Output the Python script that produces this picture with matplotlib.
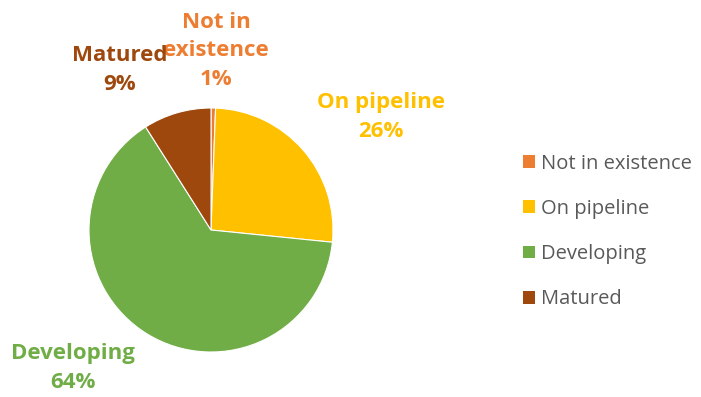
import matplotlib
matplotlib.use("Agg")
import matplotlib.pyplot as plt

# Share of sites by stage
categories = ["Not in existence", "On pipeline", "Developing", "Matured"]
shares = [0.6, 26.0, 64.4, 9.0]
colors = ["#ED7D31", "#FFC000", "#70AD47", "#9E480E"]

# label centre positions in pixels (x, y) for each slice label
label_px = [(216, 51), (381, 117), (73, 368), (120, 70)]

plt.rcParams["font.family"] = ["Open Sans", "DejaVu Sans"]

W, H = 701, 397
fig = plt.figure(figsize=(W / 100, H / 100), dpi=100)
fig.patch.set_facecolor("white")

# pie centre ~ (211, 230) px, radius ~122 px
cx, cy, r = 211, 230, 122
ax = fig.add_axes([(cx - r) / W, (H - cy - r) / H, 2 * r / W, 2 * r / H])
wedges, _ = ax.pie(shares, colors=colors, startangle=90, counterclock=False,
                   radius=1.0, wedgeprops=dict(linewidth=0.8, edgecolor="white"))
ax.set_xlim(-1, 1)
ax.set_ylim(-1, 1)
ax.set_aspect("equal")
ax.axis("off")

for name, val, col, (px, py) in zip(categories, shares, colors, label_px):
    txt = name.replace("Not in existence", "Not in\nexistence")
    fig.text(px / W, 1 - py / H, f"{txt}\n{round(val):.0f}%", color=col,
             fontsize=16, fontweight="bold", ha="center", va="center",
             linespacing=1.45)

leg = fig.legend(wedges, categories, loc="center left",
                 bbox_to_anchor=(505 / W, 1 - 231.5 / H), frameon=False,
                 fontsize=14.5, labelspacing=1.25, handlelength=0.6,
                 handleheight=0.6, handletextpad=0.3)
for t in leg.get_texts():
    t.set_color("#595959")
for h in leg.legend_handles:
    h.set_edgecolor("none")

fig.savefig("out.png", dpi=100)
